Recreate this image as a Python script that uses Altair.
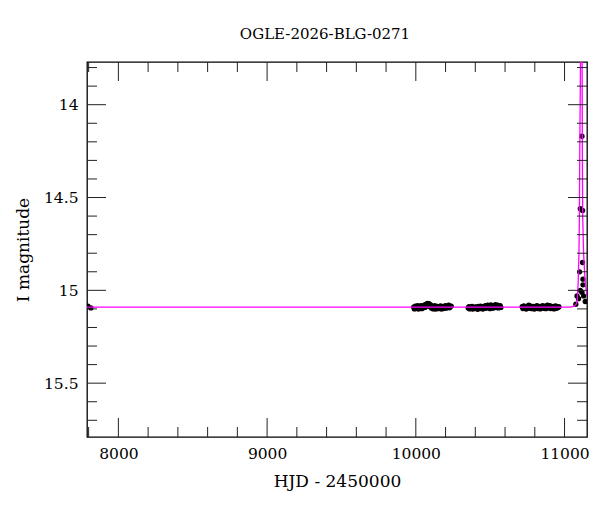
import altair as alt
import pandas as pd

# ---------------- data ----------------
early_t = [7795, 7815]
early_m = [15.085, 15.095]

c1_t = [9985, 9990, 9996, 10001, 10007, 10012, 10018, 10023, 10029, 10034, 10040, 10045,
        10051, 10056, 10062, 10067, 10073, 10078, 10084, 10089, 10095, 10100, 10106, 10111,
        10117, 10122, 10128, 10133, 10139, 10144, 10150, 10155, 10161, 10166, 10172, 10177,
        10183, 10188, 10194, 10199, 10205, 10210, 10216, 10221, 10227, 10232, 10238]
c1_m = [15.090, 15.100, 15.085, 15.098, 15.092, 15.083, 15.101, 15.090, 15.095, 15.082, 15.099, 15.088,
        15.094, 15.080, 15.092, 15.076, 15.085, 15.070, 15.078, 15.072, 15.088, 15.079, 15.097, 15.086,
        15.100, 15.090, 15.083, 15.101, 15.092, 15.087, 15.099, 15.090, 15.095, 15.084, 15.101, 15.092,
        15.086, 15.098, 15.090, 15.083, 15.096, 15.088, 15.092, 15.080, 15.094, 15.087, 15.085]

c2_t = [10352, 10357, 10362, 10367, 10373, 10378, 10383, 10388, 10394, 10399, 10404, 10409,
        10415, 10420, 10425, 10430, 10436, 10441, 10446, 10451, 10457, 10462, 10467, 10472,
        10478, 10483, 10488, 10493, 10499, 10504, 10509, 10514, 10520, 10525, 10530, 10535,
        10541, 10546, 10551, 10556, 10562, 10567, 10572]
c2_m = [15.095, 15.088, 15.100, 15.092, 15.097, 15.086, 15.101, 15.093, 15.098, 15.089, 15.096, 15.090,
        15.102, 15.087, 15.094, 15.099, 15.085, 15.096, 15.090, 15.101, 15.088, 15.094, 15.083, 15.097,
        15.090, 15.080, 15.092, 15.086, 15.099, 15.078, 15.090, 15.084, 15.096, 15.082, 15.091, 15.077,
        15.093, 15.086, 15.080, 15.095, 15.088, 15.083, 15.092]

c3_t = [10715, 10720, 10726, 10731, 10737, 10742, 10748, 10753, 10759, 10764, 10770, 10775,
        10781, 10786, 10792, 10797, 10803, 10808, 10814, 10819, 10825, 10830, 10836, 10841,
        10847, 10852, 10858, 10863, 10869, 10874, 10880, 10885, 10891, 10896, 10902, 10907,
        10913, 10918, 10924, 10929, 10935, 10940, 10946, 10951, 10957, 10962]
c3_m = [15.088, 15.098, 15.084, 15.095, 15.090, 15.101, 15.086, 15.093, 15.080, 15.097, 15.090, 15.085,
        15.099, 15.092, 15.087, 15.101, 15.090, 15.095, 15.083, 15.098, 15.091, 15.086, 15.100, 15.089,
        15.094, 15.082, 15.097, 15.090, 15.085, 15.099, 15.092, 15.080, 15.095, 15.088, 15.083, 15.098,
        15.090, 15.094, 15.086, 15.100, 15.091, 15.084, 15.097, 15.090, 15.093, 15.088]

peak_t = [11076, 11084, 11094, 11101, 11106, 11106, 11117, 11117, 11121, 11121, 11124, 11124, 11128, 11139]
peak_m = [15.075, 15.030, 15.045, 14.900, 15.000, 14.560, 14.170, 15.010, 14.570, 14.850, 14.940, 14.970, 15.030, 15.060]

model_t = [7789, 11040, 11065, 11078, 11086, 11092, 11097, 11100, 11102, 11105, 11108, 11110, 11113,
           11116, 11118, 11119, 11120, 11122, 11128, 11138, 11151]
model_m = [15.090, 15.090, 15.085, 15.075, 15.050, 14.950, 14.800, 14.600, 14.300, 14.000, 13.700, 13.400, 13.200,
           13.400, 13.700, 14.000, 14.300, 14.600, 14.800, 14.950, 15.030]

x_major = [8000, 9000, 10000, 11000]
x_minor = [7800, 8200, 8400, 8600, 8800, 9200, 9400, 9600, 9800, 10200, 10400, 10600, 10800]
y_major = [14.0, 14.5, 15.0, 15.5]
y_minor = [13.8, 13.9, 14.1, 14.2, 14.3, 14.4, 14.6, 14.7, 14.8, 14.9, 15.1, 15.2, 15.3, 15.4, 15.6, 15.7]

X_DOMAIN = [7789, 11151]
Y_DOMAIN = [13.77, 15.79]
X_TITLE = "HJD - 2450000"
Y_TITLE = "I magnitude"
TITLE = "OGLE-2026-BLG-0271"

# ---------------- build tables ----------------
pts = pd.DataFrame({
    "t": early_t + c1_t + c2_t + c3_t + peak_t,
    "m": early_m + c1_m + c2_m + c3_m + peak_m,
})
model = pd.DataFrame({"t": model_t, "m": model_m, "idx": list(range(len(model_t)))})
xmaj = pd.DataFrame({"v": x_major})
xmin = pd.DataFrame({"v": x_minor})
ymaj = pd.DataFrame({"v": y_major})
ymin = pd.DataFrame({"v": y_minor})

W, H = 500, 375
FONT = "DejaVu Serif"

xs = alt.Scale(domain=X_DOMAIN, nice=False, zero=False)
ys = alt.Scale(domain=Y_DOMAIN, reverse=True, nice=False, zero=False)

# identical axis definitions are used in every layer so that they merge into one axis
XAX = alt.Axis(values=x_major, format="d", ticks=False, domain=False, grid=False,
               labelPadding=9, titlePadding=12, labelFontSize=15.5, titleFontSize=17,
               labelFont=FONT, titleFont=FONT, titleFontWeight="normal",
               labelColor="black", titleColor="black")
YAX = alt.Axis(values=y_major, format="~g", ticks=False, domain=False, grid=False,
               labelPadding=9, titlePadding=11, labelFontSize=15.5, titleFontSize=17,
               labelFont=FONT, titleFont=FONT, titleFontWeight="normal",
               labelColor="black", titleColor="black")


def X(field):
    return alt.X(field, scale=xs, title=X_TITLE, axis=XAX)


def Y(field):
    return alt.Y(field, scale=ys, title=Y_TITLE, axis=YAX)


points = alt.Chart(pts).mark_circle(size=28, color="black", opacity=1, clip=True).encode(
    x=X("t:Q"), y=Y("m:Q"))

line = alt.Chart(model).mark_line(color="#ff00ff", strokeWidth=1.3, clip=True).encode(
    x=X("t:Q"), y=Y("m:Q"), order=alt.Order("idx:Q"))

TICK_COLOR = "#222222"


def xticks(df, length):
    bottom = alt.Chart(df).mark_rule(color=TICK_COLOR, strokeWidth=1).encode(
        x=X("v:Q"), y=alt.value(H), y2=alt.value(H - length))
    top = alt.Chart(df).mark_rule(color=TICK_COLOR, strokeWidth=1).encode(
        x=X("v:Q"), y=alt.value(0), y2=alt.value(length))
    return [bottom, top]


def yticks(df, length):
    left = alt.Chart(df).mark_rule(color=TICK_COLOR, strokeWidth=1).encode(
        y=Y("v:Q"), x=alt.value(0), x2=alt.value(length))
    right = alt.Chart(df).mark_rule(color=TICK_COLOR, strokeWidth=1).encode(
        y=Y("v:Q"), x=alt.value(W), x2=alt.value(W - length))
    return [left, right]


layers = [points, line] + xticks(xmaj, 19) + xticks(xmin, 10) + yticks(ymaj, 19) + yticks(ymin, 10)

chart = alt.layer(*layers).properties(
    width=W, height=H,
    title=alt.TitleParams(TITLE, font=FONT, fontSize=15, fontWeight="normal",
                          color="black", anchor="middle", offset=20, dx=-12),
    autosize=alt.AutoSizeParams(type="none"),
    padding={"left": 79, "top": 54, "right": 5, "bottom": 66},
).configure(background="white").configure_view(stroke="black", strokeWidth=1.3)

chart.save("out.html", embed_options={"renderer": "svg", "actions": False})
